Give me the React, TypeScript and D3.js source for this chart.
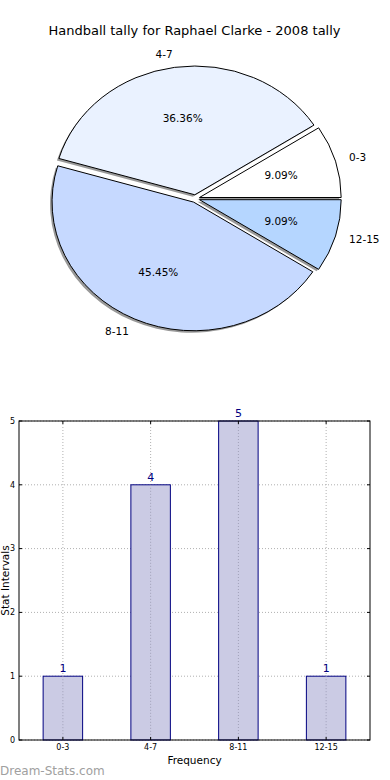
import * as React from 'react';
import * as d3 from 'd3';

const categories = ['0-3', '4-7', '8-11', '12-15'];
const counts = [1, 4, 5, 1];
const sliceColors = ['#ffffff', '#eaf2ff', '#c6d9ff', '#b5d6ff'];
const yTicks = [0, 1, 2, 3, 4, 5];

const W = 390;
const H = 780;
const FONT = 'DejaVu Sans, sans-serif';

const pieBox = { cx: 195.4, cy: 198.6, rx: 141.7, ry: 128.8 };
const explode = 0.03;

const bar = { left: 19, right: 370, top: 421, bottom: 740 };

function PieChart() {
  const total = d3.sum(counts);
  // matplotlib starts at 3 o'clock and goes counter-clockwise
  const pie = d3
    .pie<number>()
    .sort(null)
    .startAngle(Math.PI / 2)
    .endAngle(Math.PI / 2 - 2 * Math.PI)
    .value(d => d);
  const arcs = pie(counts);
  const arc = d3.arc<d3.PieArcDatum<number>>().innerRadius(0).outerRadius(1);

  const { cx, cy, rx, ry } = pieBox;

  return (
    <g>
      <text x={194.5} y={35} textAnchor="middle" fontSize={13} fontFamily={FONT} fill="#000">
        Handball tally for Raphael Clarke - 2008 tally
      </text>
      {arcs.map((a, i) => {
        const mid = (a.startAngle + a.endAngle) / 2;
        const ox = cx + explode * rx * Math.sin(mid);
        const oy = cy - explode * ry * Math.cos(mid);
        return (
          <path
            key={'s' + i}
            d={arc(a) || ''}
            transform={`translate(${ox - 2},${oy + 2}) scale(${rx},${ry})`}
            fill="#000"
            fillOpacity={0.4}
          />
        );
      })}
      {arcs.map((a, i) => {
        const mid = (a.startAngle + a.endAngle) / 2;
        const ux = Math.sin(mid);
        const uy = -Math.cos(mid);
        const ox = cx + explode * rx * ux;
        const oy = cy + explode * ry * uy;
        const pct = ((counts[i] / total) * 100).toFixed(2) + '%';
        return (
          <g key={'p' + i}>
            <path
              d={arc(a) || ''}
              transform={`translate(${ox},${oy}) scale(${rx},${ry})`}
              fill={sliceColors[i]}
              stroke="#000"
              strokeWidth={1}
              vectorEffect="non-scaling-stroke"
              strokeLinejoin="round"
            />
            <text
              x={ox + 1.1 * rx * ux}
              y={oy + 1.1 * ry * uy}
              dy="0.35em"
              textAnchor={ux > 0 ? 'start' : 'end'}
              fontSize={10.5}
              fontFamily={FONT}
            >
              {categories[i]}
            </text>
            <text
              x={ox + 0.6 * rx * ux}
              y={oy + 0.6 * ry * uy}
              dy="0.35em"
              textAnchor="middle"
              fontSize={10.5}
              fontFamily={FONT}
            >
              {pct}
            </text>
          </g>
        );
      })}
    </g>
  );
}

function BarChart() {
  const x = d3.scaleLinear().domain([-0.5, categories.length - 0.5]).range([bar.left, bar.right]);
  const y = d3.scaleLinear().domain([0, 5]).range([bar.bottom, bar.top]);
  const bw = x(0.45) - x(0);

  return (
    <g>
      {/* grid */}
      {yTicks.map(t => (
        <line
          key={'gy' + t}
          x1={bar.left}
          x2={bar.right}
          y1={y(t)}
          y2={y(t)}
          stroke="#b0b0b0"
          strokeWidth={1}
          strokeDasharray="1,2"
        />
      ))}
      {categories.map((c, i) => (
        <line
          key={'gx' + c}
          x1={x(i)}
          x2={x(i)}
          y1={bar.top}
          y2={bar.bottom}
          stroke="#b0b0b0"
          strokeWidth={1}
          strokeDasharray="1,2"
        />
      ))}
      {/* bars */}
      {counts.map((v, i) => (
        <g key={'b' + i}>
          <rect
            x={x(i) - bw / 2}
            y={y(v)}
            width={bw}
            height={y(0) - y(v)}
            fill="#cbcbe4"
            stroke="#000080"
            strokeWidth={1}
          />
          <text
            x={x(i)}
            y={y(v) - 4}
            textAnchor="middle"
            fontSize={11}
            fontFamily={FONT}
            fill="#000080"
          >
            {v}
          </text>
        </g>
      ))}
      {/* grid over bars */}
      {categories.map((c, i) => (
        <line
          key={'gx2' + c}
          x1={x(i)}
          x2={x(i)}
          y1={y(counts[i])}
          y2={bar.bottom}
          stroke="#a0a0b8"
          strokeWidth={1}
          strokeDasharray="1,2"
        />
      ))}
      {/* frame */}
      <rect
        x={bar.left}
        y={bar.top}
        width={bar.right - bar.left}
        height={bar.bottom - bar.top}
        fill="none"
        stroke="#000"
        strokeWidth={1}
      />
      {/* y ticks */}
      {yTicks.map(t => (
        <g key={'ty' + t}>
          <line x1={bar.left} x2={bar.left + 3} y1={y(t)} y2={y(t)} stroke="#000" />
          <line x1={bar.right - 3} x2={bar.right} y1={y(t)} y2={y(t)} stroke="#000" />
          <text
            x={bar.left - 4}
            y={y(t)}
            dy="0.35em"
            textAnchor="end"
            fontSize={8}
            fontFamily={FONT}
          >
            {t}
          </text>
        </g>
      ))}
      {/* x ticks */}
      {categories.map((c, i) => (
        <g key={'tx' + c}>
          <line x1={x(i)} x2={x(i)} y1={bar.bottom} y2={bar.bottom - 3} stroke="#000" />
          <line x1={x(i)} x2={x(i)} y1={bar.top} y2={bar.top + 3} stroke="#000" />
          <text x={x(i)} y={bar.bottom + 10} textAnchor="middle" fontSize={8} fontFamily={FONT}>
            {c}
          </text>
        </g>
      ))}
      <text x={194.5} y={764} textAnchor="middle" fontSize={10.5} fontFamily={FONT}>
        Frequency
      </text>
      <text
        transform={`translate(9,${(bar.top + bar.bottom) / 2}) rotate(-90)`}
        textAnchor="middle"
        fontSize={10.5}
        fontFamily={FONT}
      >
        Stat Intervals
      </text>
      <text x={0} y={775} fontSize={12} fontFamily={FONT} fill="#a0a0a0">
        Dream-Stats.com
      </text>
    </g>
  );
}

export default function App() {
  return (
    <svg
      width={W}
      height={H}
      viewBox={`0 0 ${W} ${H}`}
      style={{ position: 'absolute', left: 0, top: 0, background: '#fff' }}
    >
      <rect width={W} height={H} fill="#fff" />
      <PieChart />
      <BarChart />
    </svg>
  );
}
